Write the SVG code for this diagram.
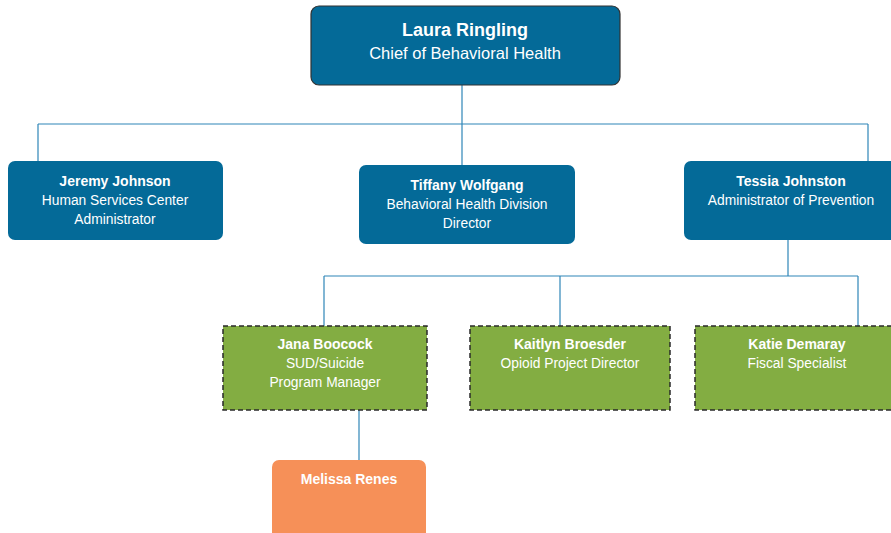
<svg xmlns="http://www.w3.org/2000/svg" width="891" height="533" viewBox="0 0 891 533">
<style>
.blue{fill:#046a98;}
.green{fill:#83ad42;stroke:#2a2a2a;stroke-width:1.5;stroke-dasharray:5,3;}
.orange{fill:#f69058;}
.conn{fill:none;stroke:#2f86b8;stroke-width:1.2;}
text{font-family:"Liberation Sans",Arial,sans-serif;fill:#ffffff;text-anchor:middle;}
.n{font-weight:bold;font-size:14px;}
.t{font-size:13.8px;}
</style>
<rect width="891" height="533" fill="#ffffff"/>
<g id="connectors">
<path class="conn" d="M462,85 V124 M38,124 H868 M38,124 V161 M462,124 V165 M868,124 V161"/>
<path class="conn" d="M788,240 V276 M324,276 H858 M324,276 V326 M560,276 V326 M858,276 V326"/>
<path class="conn" d="M359,410 V460"/>
</g>
<g id="laura">
<rect class="blue" x="311" y="6" width="309" height="79" rx="8" stroke="#333" stroke-width="1.2"/>
<text class="n" x="465" y="36" style="font-size:18px">Laura Ringling</text>
<text class="t" x="465" y="59" style="font-size:16.5px">Chief of Behavioral Health</text>
</g>
<g id="jeremy">
<rect class="blue" x="8" y="161" width="215" height="79" rx="7"/>
<text class="n" x="115" y="186">Jeremy Johnson</text>
<text class="t" x="115" y="205">Human Services Center</text>
<text class="t" x="115" y="224">Administrator</text>
</g>
<g id="tiffany">
<rect class="blue" x="359" y="165" width="216" height="79" rx="7"/>
<text class="n" x="467" y="190">Tiffany Wolfgang</text>
<text class="t" x="467" y="209">Behavioral Health Division</text>
<text class="t" x="467" y="228">Director</text>
</g>
<g id="tessia">
<rect class="blue" x="684" y="161" width="215" height="79" rx="7"/>
<text class="n" x="791" y="186">Tessia Johnston</text>
<text class="t" x="791" y="205">Administrator of Prevention</text>
</g>
<g id="jana">
<rect class="green" x="223" y="326" width="204" height="84"/>
<text class="n" x="325" y="349">Jana Boocock</text>
<text class="t" x="325" y="368">SUD/Suicide</text>
<text class="t" x="325" y="387">Program Manager</text>
</g>
<g id="kaitlyn">
<rect class="green" x="470" y="326" width="200" height="84"/>
<text class="n" x="570" y="349">Kaitlyn Broesder</text>
<text class="t" x="570" y="368">Opioid Project Director</text>
</g>
<g id="katie">
<rect class="green" x="695" y="326" width="200" height="84"/>
<text class="n" x="797" y="349">Katie Demaray</text>
<text class="t" x="797" y="368">Fiscal Specialist</text>
</g>
<g id="melissa">
<rect class="orange" x="272" y="460" width="154" height="80" rx="7"/>
<text class="n" x="349" y="484">Melissa Renes</text>
</g>
</svg>
